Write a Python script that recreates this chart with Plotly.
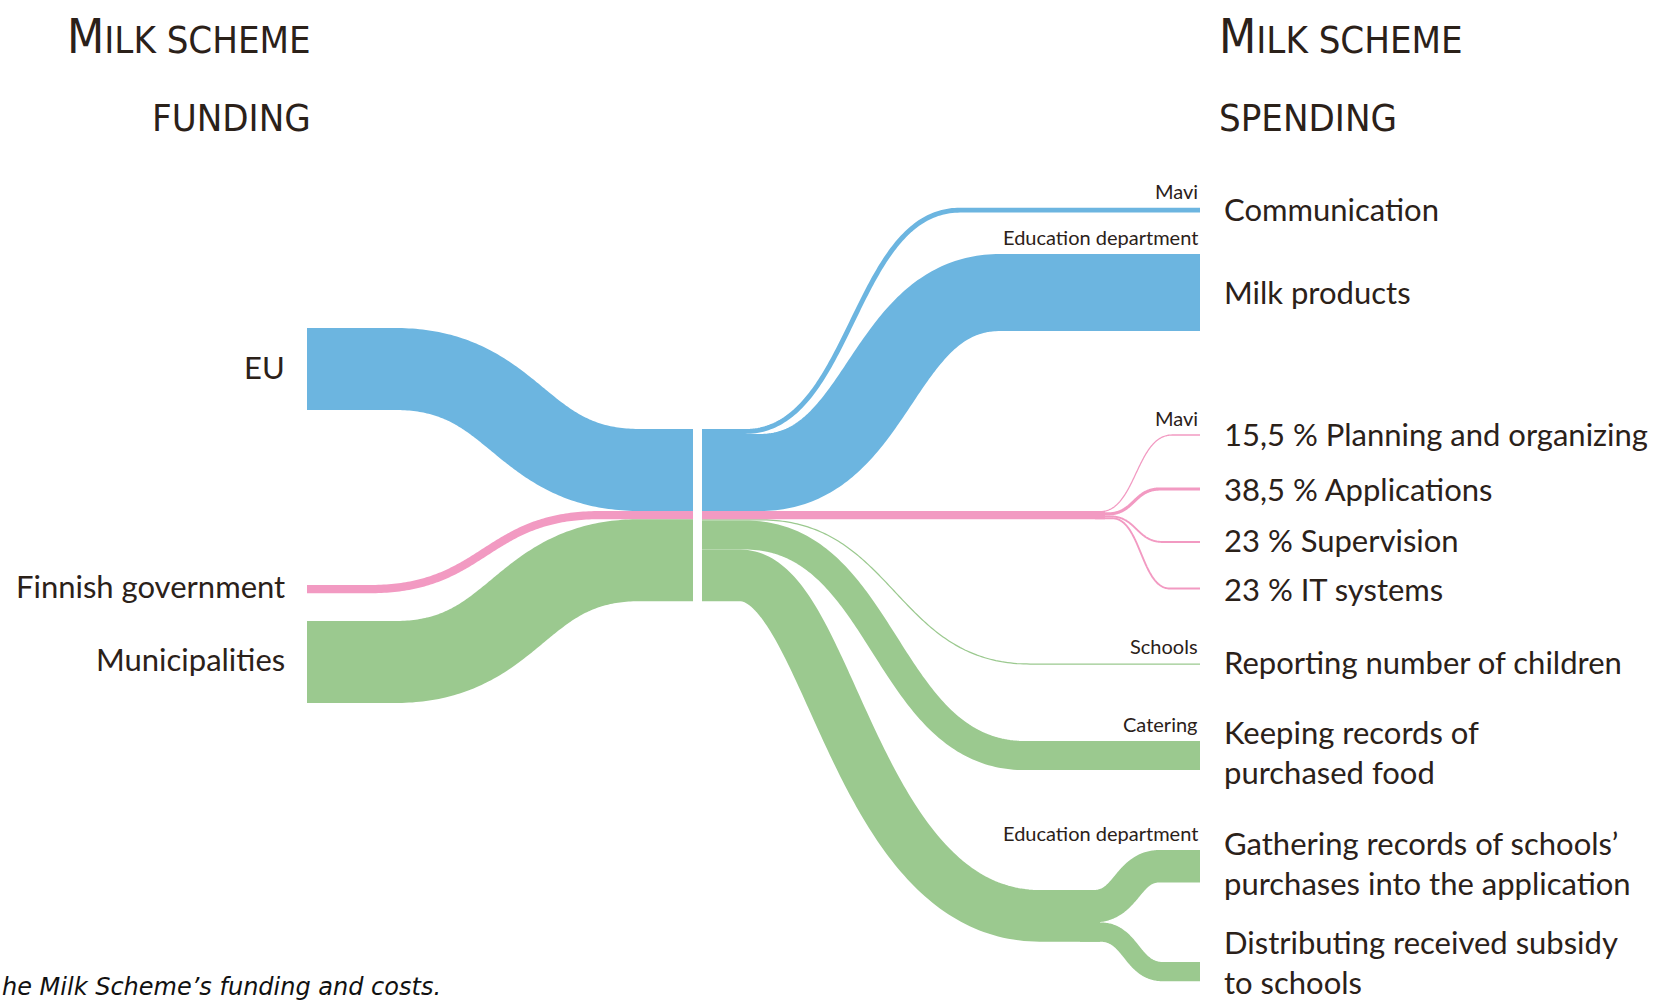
import numpy as np
import plotly.graph_objects as go

W, H = 1676, 1003

# ---------------- data (relative funding units) ----------------
funding_sources = ["EU", "Finnish government", "Municipalities"]
funding_values = [10.0, 1.0, 10.0]

eu_targets = ["Communication", "Milk products"]
eu_agents = ["Mavi", "Education department"]
eu_values = [0.6, 9.4]

gov_agent = "Mavi"
gov_targets = ["15,5 % Planning and organizing", "38,5 % Applications",
               "23 % Supervision", "23 % IT systems"]
gov_shares = [15.5, 38.5, 23.0, 23.0]

muni_targets = ["Reporting number of children",
                "Keeping records of<br>purchased food",
                "Education department"]
muni_agents = ["Schools", "Catering", "Education department"]
muni_values = [0.15, 3.55, 6.3]

edu_targets = ["Gathering records of schools’<br>purchases into the application",
               "Distributing received subsidy<br>to schools"]
edu_values = [3.95, 2.35]

titles_left = ["MILK SCHEME", "FUNDING"]
titles_right = ["MILK SCHEME", "SPENDING"]
caption = "he Milk Scheme’s funding and costs."

# ---------------- style / layout constants ----------------
BLUE = "#6cb5e0"
PINK = "#f29ac2"
GREEN = "#9bc98f"
TXT = "#2b2119"
PX = 8.2                      # pixels per funding unit
X_LEFT, X_MID_L, X_MID_R, X_RIGHT = 307, 693, 702, 1200
LEFT_TOPS = [328, 585, 621]
MID_TOP = 429
EU_TARGET_TOPS = [207.7, 254]
GOV_TARGET_CENTERS = [435, 489, 542, 588.5]
MUNI_TARGET_TOPS = [663.4, 741, 890]
EDU_TARGET_TOPS = [850, 962]
BODY_FONT = "Lato, 'Open Sans', sans-serif"
TITLE_FONT = "'Liberation Sans Narrow', 'DejaVu Sans Condensed', sans-serif"
CAPTION_FONT = "'DejaVu Sans', sans-serif"

fig = go.Figure()


def bez(x0, y0, x1, y1, a=0.5, b=0.5, n=120):
    t = np.linspace(0, 1, n)
    c0 = x0 + a * (x1 - x0)
    c1 = x1 - b * (x1 - x0)
    x = (1 - t) ** 3 * x0 + 3 * (1 - t) ** 2 * t * c0 + 3 * (1 - t) * t ** 2 * c1 + t ** 3 * x1
    y = y0 + (y1 - y0) * (3 * (1 - t) * t ** 2 + t ** 3)
    return x, y


def flow(xs, ys, xe, ye, value, color, bx0, bx1, a=0.5, b=0.5):
    bx, by = bez(bx0, ys, bx1, ye, a, b)
    x = np.concatenate([[xs], bx, [xe]])
    y = np.concatenate([[ys], by, [ye]])
    fig.add_trace(go.Scatter(x=x, y=y, mode="lines",
                             line=dict(color=color, width=value * PX, simplify=False),
                             hoverinfo="skip", showlegend=False))


src_colors = [BLUE, PINK, GREEN]
# --- left side: sources -> middle node ---
mid_centers = []
acc = MID_TOP
for i, v in enumerate(funding_values):
    h = v * PX
    mid_centers.append(acc + h / 2)
    acc += h
left_curves = [(395, 640), (370, 600), (395, 640)]
for i, v in enumerate(funding_values):
    yc = LEFT_TOPS[i] + v * PX / 2
    flow(X_LEFT, yc, X_MID_L, mid_centers[i], v, src_colors[i], *left_curves[i])

# --- right side: EU ---
acc = MID_TOP
eu_curves = [(745, 960), (760, 1000)]
for i, v in enumerate(eu_values):
    h = v * PX
    flow(X_MID_R, acc + h / 2, X_RIGHT, EU_TARGET_TOPS[i] + h / 2, v, BLUE, *eu_curves[i])
    acc += h
pink_top = acc

# --- right side: municipalities ---
acc = pink_top + funding_values[1] * PX
muni_curves = [(760, 1030, 0.5, 0.5), (745, 1025, 0.5, 0.5), (740, 1040, 0.3, 0.62)]
edu_end_x = 1100
for i, v in enumerate(muni_values):
    h = v * PX
    xe = X_RIGHT if i < 2 else edu_end_x
    c = muni_curves[i]
    flow(X_MID_R, acc + h / 2, xe, MUNI_TARGET_TOPS[i] + h / 2, v, GREEN, c[0], c[1], c[2], c[3])
    acc += h

# education department split
acc = MUNI_TARGET_TOPS[2]
edu_curves = [(1094, 1160), (1100, 1163)]
for i, v in enumerate(edu_values):
    h = v * PX
    flow(1080, acc + h / 2, X_RIGHT, EDU_TARGET_TOPS[i] + h / 2, v, GREEN, *edu_curves[i])
    acc += h

# --- right side: Finnish government (drawn on top) ---
gov_total = funding_values[1]
fig.add_trace(go.Scatter(x=[X_MID_R, 1105], y=[pink_top + gov_total * PX / 2] * 2,
                         mode="lines", line=dict(color=PINK, width=gov_total * PX),
                         hoverinfo="skip", showlegend=False))
acc = pink_top
gov_curves = [(1100, 1172), (1108, 1160), (1110, 1163), (1112, 1170)]
for i, s in enumerate(gov_shares):
    v = gov_total * s / 100
    h = v * PX
    flow(1095, acc + h / 2, X_RIGHT, GOV_TARGET_CENTERS[i], v, PINK, *gov_curves[i])
    acc += h

# ---------------- text ----------------
ann = []


def label(x, y, text, size, xanchor="left", yanchor="middle", family=BODY_FONT, align="left",
          color=TXT):
    ann.append(dict(x=x, y=y, xref="x", yref="y", text=text, showarrow=False,
                    xanchor=xanchor, yanchor=yanchor, align=align,
                    font=dict(family=family, size=size, color=color)))


left_label_y = [367, 586, 659]
for i, name in enumerate(funding_sources):
    label(287, left_label_y[i], name, 31, xanchor="right", align="right")

right_label_y = [209, 292, 434, 489, 540, 589, 662, 752, 863]
right_names = eu_targets + gov_targets + muni_targets[:2] + edu_targets[:1]
for name, y in zip(right_names, right_label_y):
    label(1222, y, name, 31)
label(1222, 1003, edu_targets[1], 31, yanchor="bottom")

small = [(eu_agents[0], EU_TARGET_TOPS[0]), (eu_agents[1], EU_TARGET_TOPS[1]),
         (gov_agent, GOV_TARGET_CENTERS[0]), (muni_agents[0], MUNI_TARGET_TOPS[0]),
         (muni_agents[1], MUNI_TARGET_TOPS[1]), (muni_agents[2], EDU_TARGET_TOPS[0])]
for name, top in small:
    label(X_RIGHT, top - 3, name, 20, xanchor="right", yanchor="bottom", align="right")


def title_text(t):
    return "<span style='font-size:48px'>%s</span>%s" % (t[0], t[1:]) if t.startswith("M") else t


for j, t in enumerate(titles_left):
    label(313, [36, 118][j], title_text(t), 38, xanchor="right", yanchor="middle",
          family=TITLE_FONT, align="right")
for j, t in enumerate(titles_right):
    label(1217, [36, 118][j], title_text(t), 38, xanchor="left", yanchor="middle",
          family=TITLE_FONT)

label(0, 1003, "<i>%s</i>" % caption, 24, xanchor="left", yanchor="bottom",
      family=CAPTION_FONT, color="#111111")

fig.update_layout(
    width=W, height=H, margin=dict(l=0, r=0, t=0, b=0),
    paper_bgcolor="white", plot_bgcolor="white",
    xaxis=dict(range=[0, W], visible=False, fixedrange=True),
    yaxis=dict(range=[H, 0], visible=False, fixedrange=True),
    annotations=ann, showlegend=False,
)

fig.write_html("out.html")
